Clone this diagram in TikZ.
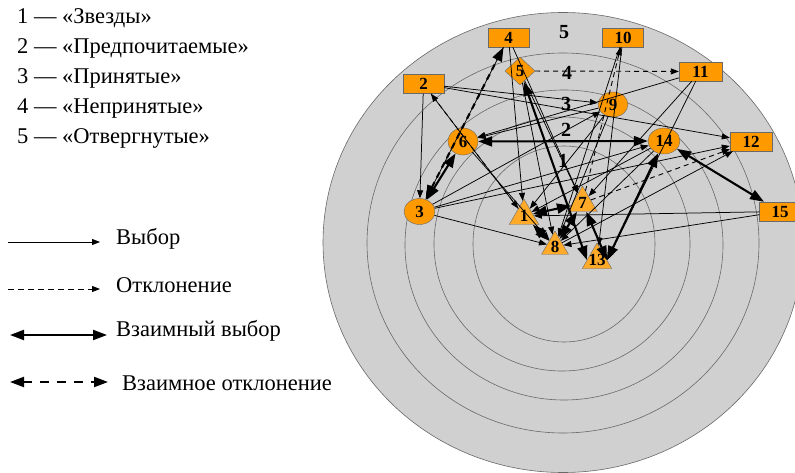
\documentclass[tikz,border=0pt]{standalone}
\usepackage{fontspec}
\setmainfont{Liberation Serif}
\usetikzlibrary{arrows.meta,shapes.geometric}
\definecolor{ringgray}{RGB}{208,208,208}
\definecolor{ringline}{RGB}{105,105,105}
\definecolor{nodeorange}{RGB}{255,153,0}
\definecolor{triorange}{RGB}{255,170,40}
\tikzset{>={Triangle[length=8pt,width=6pt]}}

\begin{document}
\begin{tikzpicture}[x=1pt,y=-1pt,
  boxnode/.style={draw=ringline, fill=nodeorange, minimum width=41pt, minimum height=19pt, inner sep=0pt, font=\fontsize{17}{17}\selectfont\bfseries},
  roundnode/.style={ellipse, draw=ringline, fill=nodeorange, minimum width=31pt, minimum height=26pt, inner sep=0pt, font=\fontsize{17}{17}\selectfont\bfseries},
  starnode/.style={regular polygon, regular polygon sides=3, draw=ringline, fill=triorange, minimum size=34pt, inner sep=-6pt, font=\fontsize{17}{17}\selectfont\bfseries},
  rhombnode/.style={diamond, draw=ringline, fill=nodeorange, minimum width=30pt, minimum height=28pt, inner sep=-2pt, font=\fontsize{17}{17}\selectfont\bfseries},
  choice/.style={->, line width=0.75pt},
  reject/.style={->, line width=0.9pt, dash pattern=on 5pt off 4pt},
  mutual/.style={{Triangle[length=14pt,width=10pt]}-{Triangle[length=14pt,width=10pt]}, line width=2.1pt},
  mutrej/.style={mutual, dash pattern=on 6pt off 5pt},
  ring/.style={draw=ringline, line width=0.6pt},
  ringnum/.style={font=\fontsize{20}{20}\selectfont\bfseries},
  legend/.style={anchor=west, inner sep=0pt, font=\fontsize{22.5}{24}\selectfont}]
\clip (0,0) rectangle (795,473);
\fill[white] (0,0) rectangle (795,473);

\fill[ringgray] (563,242.5) ellipse [x radius=240, y radius=230];
\draw[ring] (563,242.5) ellipse [x radius=240, y radius=230];
\draw[ring] (563,243) ellipse [x radius=196, y radius=190];
\draw[ring] (564,245) ellipse [x radius=159, y radius=155];
\draw[ring] (562,244) ellipse [x radius=128, y radius=127];
\draw[ring] (564,244) ellipse [x radius=91, y radius=98];

\node[ringnum] (r5) at (564,32) {5};
\node[ringnum] (r4) at (567,73) {4};
\node[ringnum] (r3) at (566,104) {3};
\node[ringnum] (r2) at (566,130) {2};
\node[ringnum] (r1) at (563,161) {1};

\node[legend] (k1) at (17,18) {1 — «Звезды»};
\node[legend] (k2) at (17,48) {2 — «Предпочитаемые»};
\node[legend] (k3) at (17,78) {3 — «Принятые»};
\node[legend] (k4) at (17,108) {4 — «Непринятые»};
\node[legend] (k5) at (17,138) {5 — «Отвергнутые»};

\node[legend] (lchoice) at (116,239) {Выбор};
\node[legend] (lreject) at (116,285) {Отклонение};
\node[legend] (lmutual) at (116,331) {Взаимный выбор};
\node[legend] (lmutrej) at (122,383) {Взаимное отклонение};
\coordinate (s1) at (8,242);
\coordinate (s2) at (8,289);
\coordinate (s3) at (10,335);
\coordinate (s4) at (10,382);
\draw[choice, ->={Triangle[length=10pt,width=7pt]}] (s1) -- ([xshift=-16pt]lchoice.west |- s1);
\draw[reject, dash pattern=on 6pt off 4pt, ->={Triangle[length=10pt,width=7pt]}] (s2) -- ([xshift=-16pt]lreject.west |- s2);
\draw[mutual] (s3) -- ([xshift=-9pt]lmutual.west |- s3);
\draw[mutrej, dash pattern=on 9pt off 8pt] (s4) -- ([xshift=-14pt]lmutrej.west |- s4);

\node[starnode] (n1) at (524,216) {1};
\node[boxnode] (n2) at (423.5,84) {2};
\node[roundnode] (n3) at (419.5,211.5) {3};
\node[boxnode] (n4) at (508.5,37.5) {4};
\node[rhombnode] (n5) at (520,71) {5};
\node[roundnode, minimum width=30pt, minimum height=27pt] (n6) at (463,141.5) {6};
\node[starnode] (n7) at (582.5,203) {7};
\node[starnode, minimum size=31pt] (n8) at (555,246.5) {8};
\node[roundnode, minimum width=30pt, minimum height=25pt] (n9) at (613,104.5) {9};
\node[boxnode] (n10) at (623,37.5) {10};
\node[boxnode, minimum width=43pt] (n11) at (700.5,71.5) {11};
\node[boxnode, minimum width=42pt] (n12) at (751,141.5) {12};
\node[starnode] (n13) at (597,260) {13};
\node[roundnode, minimum width=32pt] (n14) at (664,141) {14};
\node[boxnode] (n15) at (780,211.5) {15};

\draw[choice] (n2) -- (n3);
\draw[choice] (n2) -- (n9);
\draw[choice] (n2) -- (n12);
\draw[choice] (n2) -- (n1);
\draw[choice] (n4) -- (n3);
\draw[choice] (n4) -- (n1);
\draw[choice] (n4) -- (n7);
\draw[choice] (n5) -- (n7);
\draw[choice] (n5) -- (n8);
\draw[choice] (n10) -- (n8);
\draw[choice] (n10) -- (n13);
\draw[choice] (n3) -- (n9);
\draw[choice] (n3) -- (n14);
\draw[choice] (n3) -- (n12);
\draw[choice] (n3) -- (n8);
\draw[choice] (n6) -- (n8);
\draw[choice] (n9) -- (n6);
\draw[choice] (n9) -- (n1);
\draw[choice] (n9) -- (n8);
\draw[choice] (n11) -- (n6);
\draw[choice] (n11) -- (n7);
\draw[choice] (n11) -- (n13.east);
\draw[choice] (n14) -- (n1);
\draw[choice] (n14) -- (n8);
\draw[choice] (n15) -- (n1);
\draw[choice] (n15) -- (n8);
\draw[choice] (n8) -- (n12);

\draw[reject] (n1) -- (n2);
\draw[reject] (n5) -- (n11);
\draw[reject] (n7) -- (n10);
\draw[reject] (n7) -- (n12);

\draw[mutrej] (n3) -- (n4);

\draw[mutual] (n6) -- (n14);
\draw[mutual] (n6) -- (n3);
\draw[mutual] (n14) -- (n15);
\draw[mutual] (n1) -- (n8);
\draw[mutual] (n7) -- (n1);
\draw[mutual] (n8) -- (n7);
\draw[mutual] (n7) -- (n13.east);
\draw[mutual] (n14) -- (n13.east);
\draw[mutual] (n5) -- (n13.west);
\end{tikzpicture}
\end{document}
